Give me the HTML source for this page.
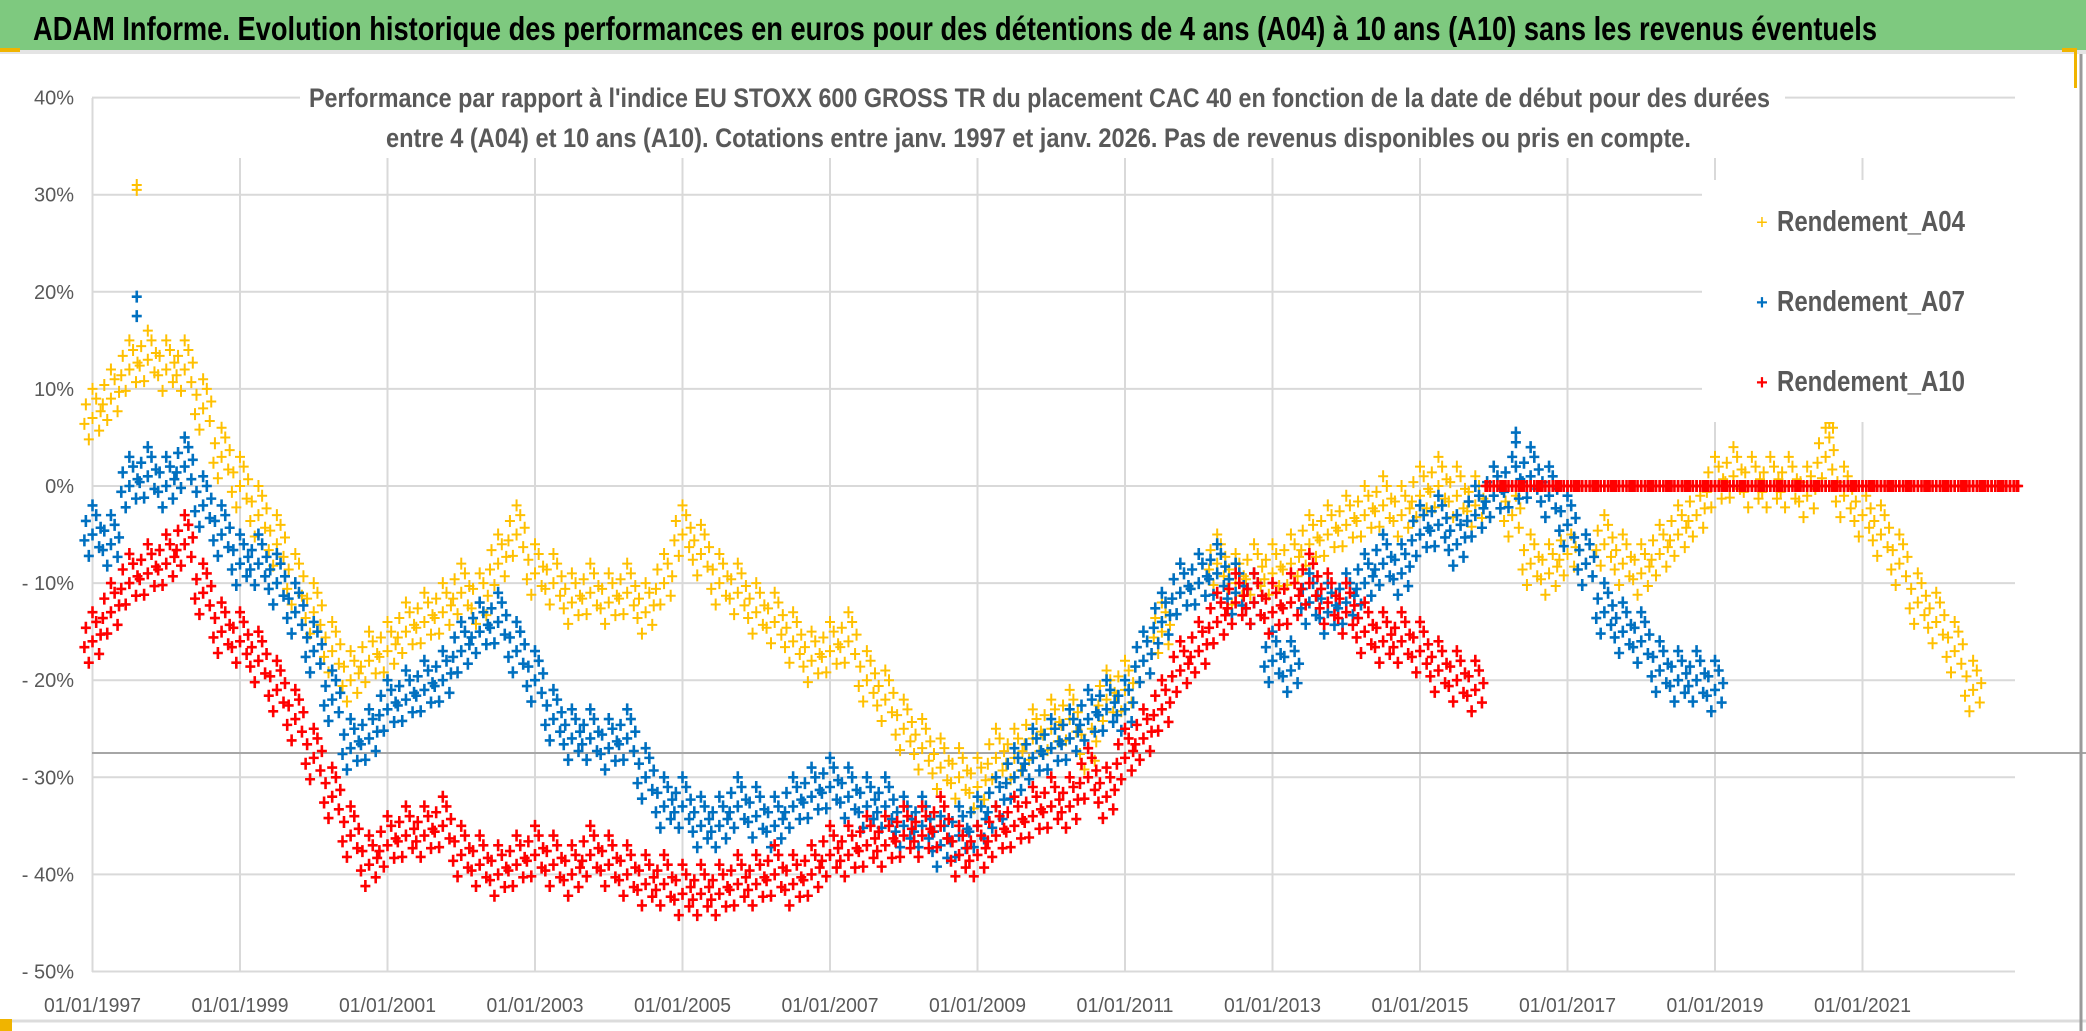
<!DOCTYPE html>
<html><head><meta charset="utf-8"><style>
html,body{margin:0;padding:0;background:#fff;}
svg{display:block;}
text{font-family:"Liberation Sans",sans-serif;}
</style></head><body>
<svg id="chart" width="2086" height="1031" viewBox="0 0 2086 1031" xmlns="http://www.w3.org/2000/svg">
<rect x="0" y="0" width="2086" height="1031" fill="#fff"/>
<rect x="0" y="0" width="2086" height="50" fill="#7ec97f"/>
<rect x="0" y="50" width="2086" height="4" fill="#e4e4e4"/>
<rect x="0" y="48" width="20" height="4" fill="#f0b400"/>
<rect x="2062" y="48" width="14" height="4" fill="#f0b400"/>
<rect x="2074" y="48" width="3" height="40" fill="#f0b400"/>
<text x="33" y="40" font-size="33" font-weight="bold" fill="#000" textLength="1844" lengthAdjust="spacingAndGlyphs">ADAM Informe. Evolution historique des performances en euros pour des détentions de 4 ans (A04) à 10 ans (A10) sans les revenus éventuels</text>
<g id="grid"></g>
<line x1="92" y1="753" x2="2086" y2="753" stroke="#a6a6a6" stroke-width="2"/>
<g id="yticks"></g>
<g id="xticks"></g>
<g id="marks"></g>
<rect x="300" y="92" width="1485" height="66" fill="#fff"/>
<text x="309" y="107" font-size="27" font-weight="bold" fill="#595959" textLength="1461" lengthAdjust="spacingAndGlyphs">Performance  par rapport à l'indice EU STOXX 600 GROSS TR  du placement CAC 40 en fonction de la date de début pour des durées</text>
<text x="386" y="147" font-size="27" font-weight="bold" fill="#595959" textLength="1305" lengthAdjust="spacingAndGlyphs">entre 4 (A04) et 10 ans (A10). Cotations entre janv. 1997 et janv. 2026. Pas de revenus disponibles ou pris en compte.</text>
<g>
<rect x="1702" y="180" width="318" height="242" fill="#fff"/>
<g><text x="1762" y="229" font-size="20" fill="#ffc000" text-anchor="middle">+</text><text x="1777" y="231" font-size="29" font-weight="bold" fill="#595959" textLength="188" lengthAdjust="spacingAndGlyphs">Rendement_A04</text></g>
<g><text x="1762" y="309" font-size="20" fill="#0070c0" text-anchor="middle" font-weight="bold">+</text><text x="1777" y="311" font-size="29" font-weight="bold" fill="#595959" textLength="188" lengthAdjust="spacingAndGlyphs">Rendement_A07</text></g>
<g><text x="1762" y="389" font-size="20" fill="#ff0000" text-anchor="middle" font-weight="bold">+</text><text x="1777" y="391" font-size="29" font-weight="bold" fill="#595959" textLength="188" lengthAdjust="spacingAndGlyphs">Rendement_A10</text></g>
</g>
<line x1="0" y1="1021" x2="2086" y2="1021" stroke="#dcdcdc" stroke-width="3"/>
<rect x="0" y="1019" width="12" height="12" fill="#f0b400"/>
<line x1="2081" y1="54" x2="2081" y2="1031" stroke="#9a9a9a" stroke-width="3"/>
</svg>
<script>
const yTickValues = [40,30,20,10,0,-10,-20,-30,-40,-50];
const yTickLabels = ["40%","30%","20%","10%","0%","- 10%","- 20%","- 30%","- 40%","- 50%"];
const xTickYears = [1997,1999,2001,2003,2005,2007,2009,2011,2013,2015,2017,2019,2021];
const xTickLabels = ["01/01/1997","01/01/1999","01/01/2001","01/01/2003","01/01/2005","01/01/2007","01/01/2009","01/01/2011","01/01/2013","01/01/2015","01/01/2017","01/01/2019","01/01/2021"];
const seriesStart = 1997;
const seriesStep = 0.25;
const a04Values = [7,9,12,13,12,12,8,3,0,-3,-6,-10,-13,-17,-20,-18,-17,-15,-14,-13,-11,-12,-8,-5,-9,-10,-12,-11,-12,-11,-13,-10,-5,-7,-10,-11,-13,-14,-16,-18,-17,-16,-20,-22,-25,-27,-29,-30,-31,-28,-28,-26,-25,-24,-27,-22,-21,-18,-15,-11,-10,-8,-10,-9,-9,-8,-6,-5,-4,-3,-2,-3,-1,0,-1,-2,-1,-3,-8,-9,-7,-8,-6,-8,-9,-7,-5,-3,0,1,0,0,0,-1,3,-1,-3,-5,-8,-12,-14,-17,-21];
const a07Values = [-5,-6,0,1,0,2,-2,-5,-8,-8,-10,-13,-17,-22,-27,-26,-23,-22,-21,-20,-17,-15,-14,-17,-20,-24,-26,-26,-27,-26,-30,-33,-33,-35,-35,-33,-34,-35,-33,-32,-31,-32,-33,-33,-35,-35,-37,-36,-35,-33,-30,-28,-27,-26,-24,-23,-23,-18,-14,-11,-10,-9,-11,-12,-18,-19,-12,-13,-12,-10,-8,-9,-5,-4,-6,-3,-1,0,1,-1,-4,-8,-13,-15,-16,-19,-20,-20,-21];
const a10Values = [-16,-13,-10,-9,-8,-6,-11,-15,-16,-18,-21,-24,-28,-32,-36,-39,-37,-36,-36,-35,-38,-39,-40,-39,-38,-39,-40,-38,-39,-40,-41,-41,-42,-42,-42,-41,-41,-40,-41,-40,-38,-38,-37,-37,-36,-36,-35,-38,-38,-36,-35,-34,-33,-33,-30,-32,-28,-26,-23,-19,-17,-14,-12,-12,-13,-12,-10,-12,-13,-15,-16,-16,-17,-19,-20,-21,0,0,0,0,0,0,0,0,0,0,0,0,0,0,0,0,0,0,0,0,0,0,0,0,0,0,0,0,0];
const a04OutlierYears = [1997.6,1997.6,2020.55,2020.6];
const a04OutlierValues = [31,30.5,6.5,6];
const a07OutlierYears = [1997.6,1997.6,2016.3,2016.3];
const a07OutlierValues = [19.5,17.5,5.5,4.5];

const NS="http://www.w3.org/2000/svg";
const X0=92.5, PXY=73.75, Y0=486, PXP=9.71;
function xScale(yr){return X0+(yr-1997)*PXY;}
function yScale(p){return Y0-p*PXP;}
function mk(tag,attrs,parent){const e=document.createElementNS(NS,tag);for(const k in attrs)e.setAttribute(k,attrs[k]);parent.appendChild(e);return e;}
const grid=document.getElementById('grid');
yTickValues.forEach(v=>{
  const l=mk('line',{x1:92,x2:2015,y1:yScale(v),y2:yScale(v),stroke:'#d9d9d9','stroke-width':2},grid);
  
  
});
xTickYears.forEach((yr,i)=>{
  const top = i===0?98:158;
  const l=mk('line',{x1:xScale(yr),x2:xScale(yr),y1:top,y2:972,stroke:'#d9d9d9','stroke-width':2},grid);
  
  
});
const yt=document.getElementById('yticks');
yTickValues.forEach((v,i)=>{
  const t=mk('text',{x:74,y:yScale(v)+7,'font-size':20,fill:'#595959','text-anchor':'end'},yt);
  t.textContent=yTickLabels[i];
  
  
});
const xt=document.getElementById('xticks');
xTickYears.forEach((yr,i)=>{
  const t=mk('text',{x:xScale(yr),y:1012,'font-size':20,fill:'#595959','text-anchor':'middle',textLength:97,lengthAdjust:'spacingAndGlyphs'},xt);
  t.textContent=xTickLabels[i];
  
  
});
const marks=document.getElementById('marks');
const cdx=[0,-0.09,0.09,-0.05,0.05,-0.11,0.11,0.0];
const cdy=[0,1.4,-1.3,-2.2,2.0,-0.6,0.7,3.0];
function plus(g,cx,cy,name){
  const p=mk('path',{d:`M${cx-5} ${cy}H${cx+5}M${cx} ${cy-6}V${cy+6}`},g);
  
  
}
function drawSeries(vals,color,name,sw,oy,ov){
  const g=mk('g',{stroke:color,'stroke-width':sw,fill:'none'},marks);
  
  
  vals.forEach((v,i)=>{
    const yr=seriesStart+i*seriesStep;
    for(let k=0;k<cdx.length;k++){
      const flat = v===0 && name==='series-a10';
      plus(g,xScale(yr+cdx[k]),yScale(flat?v:v+cdy[k]),name);
    }
  });
  oy.forEach((yr,i)=>plus(g,xScale(yr),yScale(ov[i]),name));
}
drawSeries(a04Values,'#ffc000','series-a04',2,a04OutlierYears,a04OutlierValues);
drawSeries(a07Values,'#0070c0','series-a07',2.6,a07OutlierYears,a07OutlierValues);
drawSeries(a10Values,'#ff0000','series-a10',2.6,[],[]);
</script>
</body></html>
